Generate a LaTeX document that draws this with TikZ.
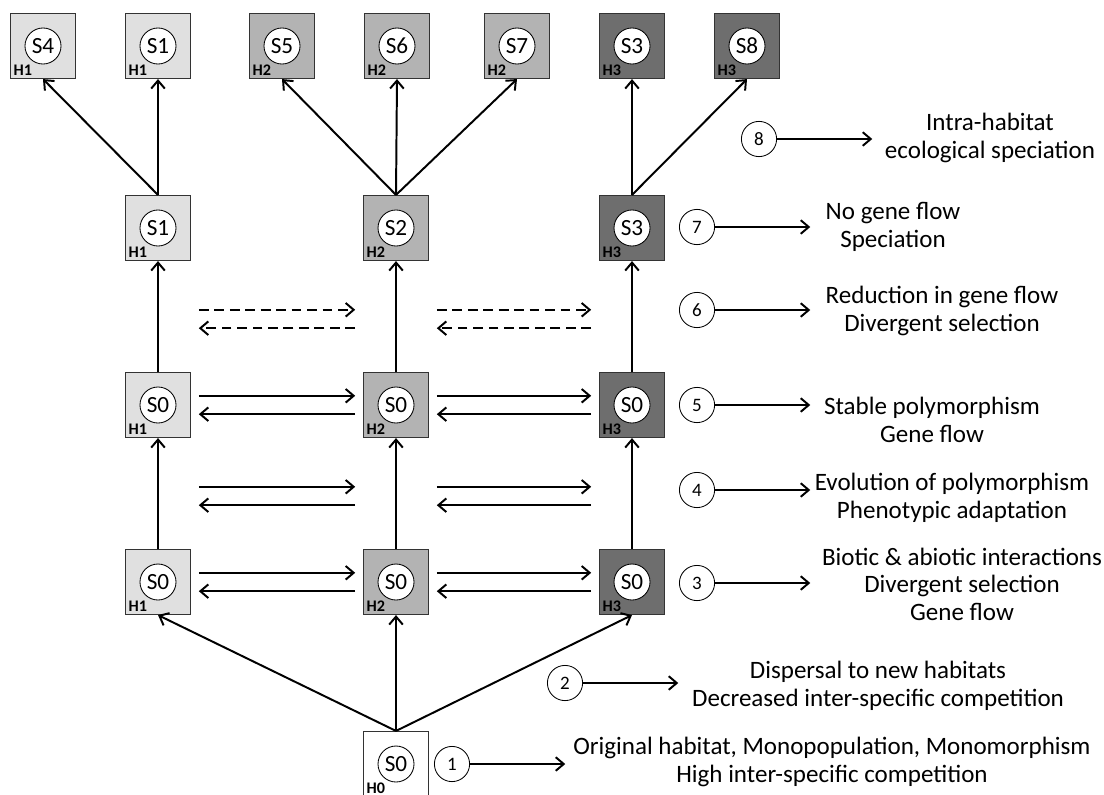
\documentclass[tikz,border=0pt]{standalone}
\usepackage{fontspec}
\setmainfont{Carlito}
\usepackage{xcolor}
\usetikzlibrary{arrows.meta,positioning}
\definecolor{hone}{HTML}{E0E0E0}
\definecolor{htwo}{HTML}{B3B3B3}
\definecolor{hthree}{HTML}{6E6E6E}
\tikzset{
  hab/.style={draw=black!80,line width=0.8pt,minimum size=1.625cm,inner sep=0pt},
  sp/.style={draw,fill=white,circle,line width=0.6pt,minimum size=0.9cm,inner sep=0pt,font=\fontsize{16.5}{16.5}\selectfont},
  hl/.style={anchor=south west,inner sep=2.5pt,font=\fontsize{11.5}{11.5}\selectfont\bfseries},
  num/.style={draw,circle,line width=0.6pt,minimum size=0.88cm,inner sep=0pt,font=\fontsize{13.5}{13.5}\selectfont},
  desc/.style={align=center,font=\fontsize{17.8}{19.5}\selectfont},
  arr/.style={-{Straight Barb[length=2mm,width=3.4mm]},line width=1.4pt},
  darr/.style={arr,dash pattern=on 7pt off 4pt},
}
% habitat box: name, position, fill, species, habitat
\newcommand{\habbox}[5]{%
  \node[hab,fill=#3] (#1) at (#2) {};
  \node[sp] (#1s) at (#1.center) {#4};
  \node[hl] at (#1.south west) {#5};}
% two-way gene flow between two columns
\newcommand{\flow}[3]{%
  \draw[#3] ([xshift=1.02cm,yshift=0.23cm]#1) -- ([xshift=-1.02cm,yshift=0.23cm]#2);
  \draw[#3] ([xshift=-1.02cm,yshift=-0.23cm]#2) -- ([xshift=1.02cm,yshift=-0.23cm]#1);}

\begin{document}
\begin{tikzpicture}[x=0.025cm,y=-0.025cm]
\useasboundingbox (0,0) rectangle (1104,795);

% species (top row)
\habbox{t1}{43,46}{hone}{S4}{H1}
\habbox{t2}{158,46}{hone}{S1}{H1}
\habbox{t3}{282,46}{htwo}{S5}{H2}
\habbox{t4}{397,46}{htwo}{S6}{H2}
\habbox{t5}{517,46}{htwo}{S7}{H2}
\habbox{t6}{632,46}{hthree}{S3}{H3}
\habbox{t7}{747,46}{hthree}{S8}{H3}
% speciation
\habbox{b1}{158,228}{hone}{S1}{H1}
\habbox{b2}{396,228}{htwo}{S2}{H2}
\habbox{b3}{632,228}{hthree}{S3}{H3}
% polymorphism
\habbox{c1}{158,405}{hone}{S0}{H1}
\habbox{c2}{396,405}{htwo}{S0}{H2}
\habbox{c3}{632,405}{hthree}{S0}{H3}
% colonisation
\habbox{d1}{158,582}{hone}{S0}{H1}
\habbox{d2}{396,582}{htwo}{S0}{H2}
\habbox{d3}{632,582}{hthree}{S0}{H3}
% origin
\habbox{h0}{396,764}{white}{S0}{H0}

\draw[arr] (b1.north) -- (t1.south);
\draw[arr] (b1.north) -- (t2.south);
\draw[arr] (b2.north) -- (t3.south);
\draw[arr] (b2.north) -- (t4.south);
\draw[arr] (b2.north) -- (t5.south);
\draw[arr] (b3.north) -- (t6.south);
\draw[arr] (b3.north) -- (t7.south);

\draw[arr] (c1.north) -- (b1.south);
\draw[arr] (c2.north) -- (b2.south);
\draw[arr] (c3.north) -- (b3.south);
\draw[arr] (d1.north) -- (c1.south);
\draw[arr] (d2.north) -- (c2.south);
\draw[arr] (d3.north) -- (c3.south);
\draw[arr] (h0.north) -- (d1.south);
\draw[arr] (h0.north) -- (d2.south);
\draw[arr] (h0.north) -- (d3.south);

% gene flow
\coordinate (g1) at (158,319); \coordinate (g2) at (396,319); \coordinate (g3) at (632,319);
\coordinate (m1) at (158,496); \coordinate (m2) at (396,496); \coordinate (m3) at (632,496);
\flow{g1}{g2}{darr}
\flow{g2}{g3}{darr}
\flow{c1.center}{c2.center}{arr}
\flow{c2.center}{c3.center}{arr}
\flow{m1}{m2}{arr}
\flow{m2}{m3}{arr}
\flow{d1.center}{d2.center}{arr}
\flow{d2.center}{d3.center}{arr}

% steps
\node[num] (n8) at (759,139) {8};
\node[num] (n7) at (697,227) {7};
\node[num] (n6) at (697,310) {6};
\node[num] (n5) at (697,405) {5};
\node[num] (n4) at (697,490) {4};
\node[num] (n3) at (697,583) {3};
\node[num] (n2) at (565,683) {2};
\node[num] (n1) at (452,764) {1};
\foreach \i in {1,...,8}{
  \coordinate[right=2.38cm of n\i] (e\i);
  \draw[arr] (n\i) -- (e\i);
}
\node[desc] (l8) at (990,138) {Intra-habitat\\ecological speciation};
\node[desc] (l7) at (893,227) {No gene flow\\Speciation};
\node[desc] (l6) at (942,311) {Reduction in gene flow\\Divergent selection};
\node[desc] (l5) at (932,420) {Stable polymorphism\\Gene flow};
\node[desc] (l4) at (952,498) {Evolution of polymorphism\\Phenotypic adaptation};
\node[desc] (l3) at (962,584) {Biotic \& abiotic interactions\\Divergent selection\\Gene flow};
\node[desc] (l2) at (878,686) {Dispersal to new habitats\\Decreased inter-specific competition};
\node[desc] (l1) at (832,762) {Original habitat, Monopopulation, Monomorphism\\High inter-specific competition};
\end{tikzpicture}
\end{document}
